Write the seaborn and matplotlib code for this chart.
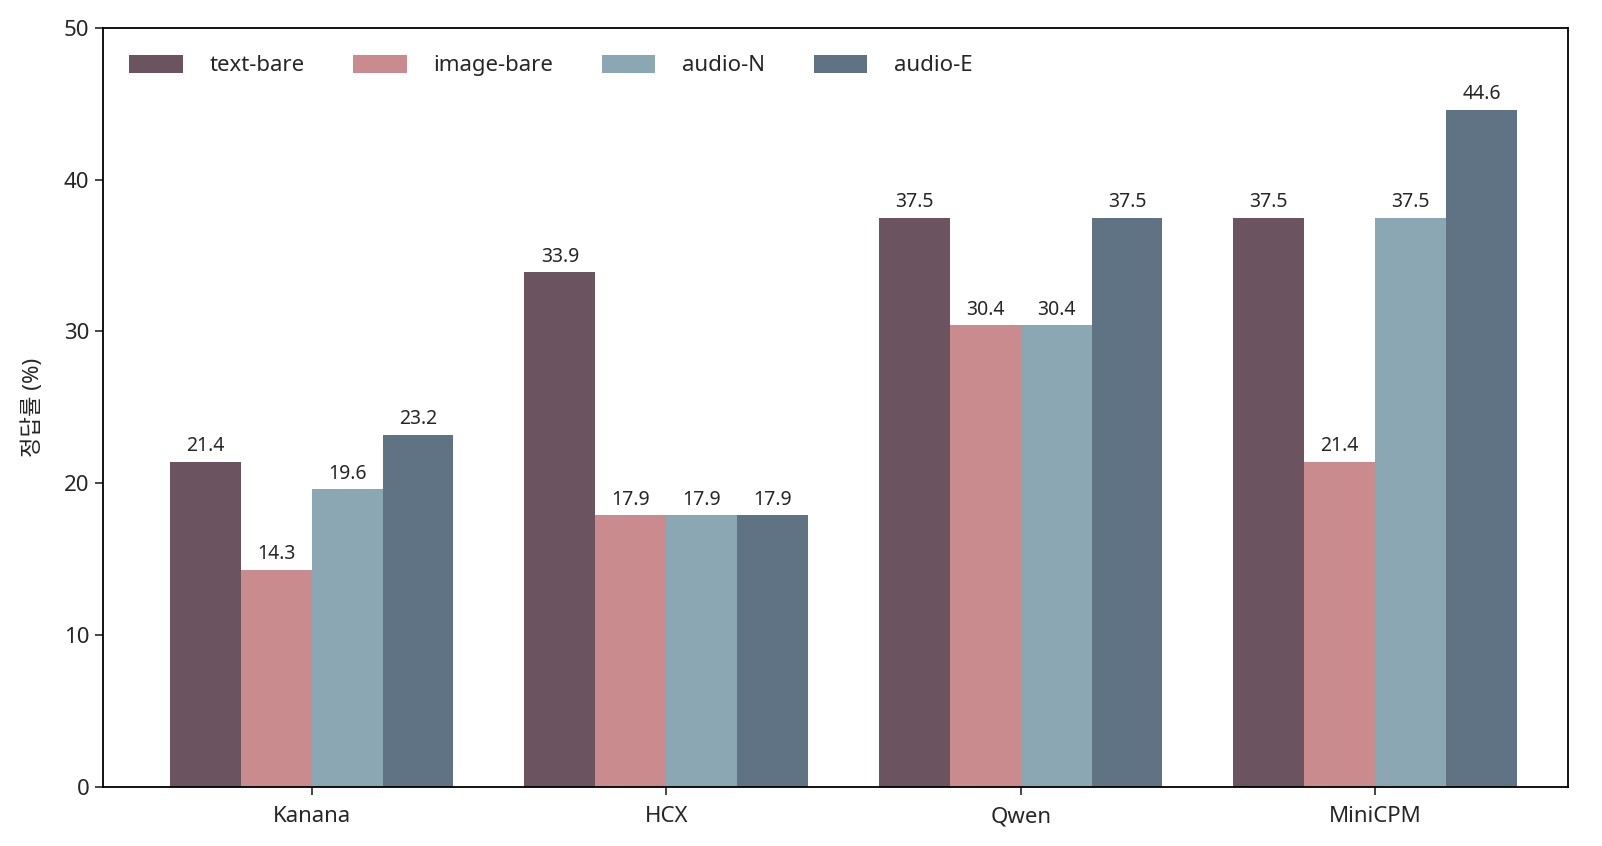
import pandas as pd
import matplotlib
matplotlib.use('Agg')
import matplotlib.pyplot as plt
import seaborn as sns

models = ['Kanana', 'HCX', 'Qwen', 'MiniCPM']
conditions = ['text-bare', 'image-bare', 'audio-N', 'audio-E']
text_bare = [21.4, 33.9, 37.5, 37.5]
image_bare = [14.3, 17.9, 30.4, 21.4]
audio_n = [19.6, 17.9, 30.4, 37.5]
audio_e = [23.2, 17.9, 37.5, 44.6]
colors = ['#6B5460', '#C98B8E', '#8BA7B4', '#5F7384']

rows = []
for cond, vals in zip(conditions, [text_bare, image_bare, audio_n, audio_e]):
    for m, v in zip(models, vals):
        rows.append({'model': m, 'cond': cond, 'acc': v})
df = pd.DataFrame(rows)

sns.set_style('ticks')
plt.rcParams['font.family'] = ['Noto Sans', 'Noto Sans CJK KR', 'DejaVu Sans']

fig, ax = plt.subplots(figsize=(16.02, 8.46), dpi=100)
fig.subplots_adjust(left=0.064, right=0.979, top=0.967, bottom=0.070)

sns.barplot(data=df, x='model', y='acc', hue='cond', hue_order=conditions,
            order=models, palette=colors, saturation=1, width=0.8,
            linewidth=0, ax=ax)

for cont in ax.containers:
    ax.bar_label(cont, fmt='%.1f', padding=4, fontsize=14)

ax.set_xlim(-0.59, 3.545)
ax.set_ylim(0, 50)
ax.set_xlabel('')
ax.set_ylabel('정답률 (%)', fontsize=16, labelpad=14)
ax.tick_params(axis='both', labelsize=16, length=6, width=1.2)
ax.tick_params(axis='x', pad=8)
for s in ax.spines.values():
    s.set_linewidth(1.3)
    s.set_color('black')

ax.legend(loc='upper left', ncol=4, frameon=False, fontsize=16,
          handlelength=2.4, handleheight=0.9, columnspacing=2.2,
          handletextpad=1.2, borderaxespad=0.8)

fig.savefig('out.png', dpi=100)
